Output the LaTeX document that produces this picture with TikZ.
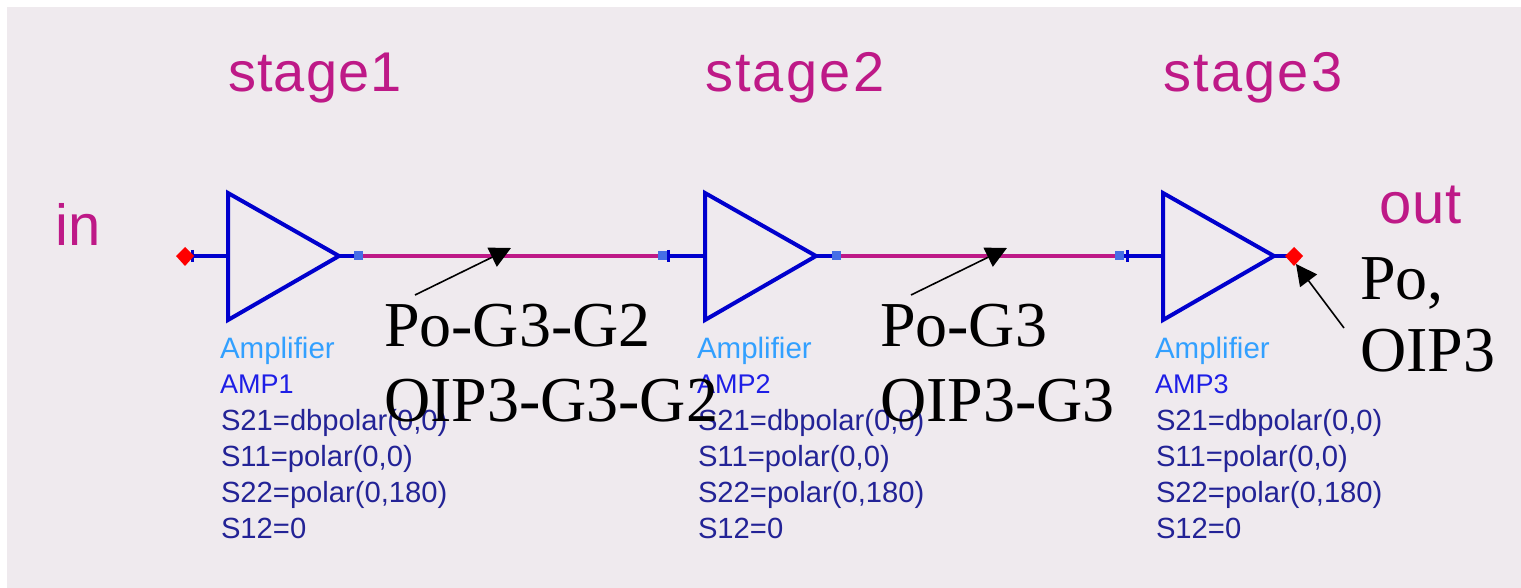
\documentclass[tikz,border=0pt]{standalone}
\usepackage{fontspec}
\setmainfont{Liberation Serif}
\setsansfont{Liberation Sans}
\usetikzlibrary{arrows.meta}
\definecolor{bgc}{RGB}{239,234,238}
\definecolor{wirec}{RGB}{190,25,135}
\definecolor{ampc}{RGB}{0,0,205}
\definecolor{pinc}{RGB}{70,110,230}
\definecolor{typec}{RGB}{50,160,255}
\definecolor{namec}{RGB}{30,30,230}
\definecolor{parc}{RGB}{35,35,150}
\tikzset{
  x=1pt,y=-1pt,
  every node/.style={inner sep=0pt,outer sep=0pt},
  big/.style={font=\fontsize{64}{75}\selectfont\rmfamily,text=black,anchor=base west,align=left},
  lbl/.style={font=\fontsize{56}{58}\selectfont\sffamily,text=wirec,anchor=base west},
  portlbl/.style={font=\fontsize{58}{60}\selectfont\sffamily,text=wirec,anchor=base west},
  typetxt/.style={font=\fontsize{29.5}{30}\selectfont\sffamily,text=typec,anchor=base west},
  nametxt/.style={font=\fontsize{27}{30}\selectfont\sffamily,text=namec,anchor=base west},
  partxt/.style={font=\fontsize{29.2}{36}\selectfont\sffamily,text=parc,anchor=north west,align=left},
  amp/.style={draw=ampc,line width=4pt,line join=miter},
  lead/.style={draw=ampc,line width=4pt},
  wire/.style={draw=wirec,line width=4pt},
  pin/.style={fill=pinc,minimum size=9pt},
  pointer/.style={draw=black,line width=1.6pt,-{Triangle[length=21pt,width=21pt]}},
}
\newcommand{\ampsym}[3]{% x, name, label
  \coordinate (#2in) at (#1,256);
  \coordinate (#2a) at (#1+2,193);
  \coordinate (#2b) at (#1+2,320);
  \coordinate (#2out) at (#1+113,256);
  \draw[amp] (#2a) -- (#2out) -- (#2b) -- cycle;
  \node[typetxt] (#2type) at (#1-6,358) {Amplifier};
  \node[nametxt] (#2name) at (#1-6,393) {#3};
  \node[partxt] (#2par) at (#1-5,409) {S21=dbpolar(0,0)\\S11=polar(0,0)\\S22=polar(0,180)\\S12=0};
}
\begin{document}
\begin{tikzpicture}
\useasboundingbox (0,0) rectangle (1521,588);
\fill[bgc] (7,7) rectangle (1521,588);
% labels
\node[lbl] (s1) at (228,92) {\addfontfeature{LetterSpace=2}stage1};
\node[lbl] (s2) at (705,92) {\addfontfeature{LetterSpace=4}stage2};
\node[lbl] (s3) at (1163,92) {\addfontfeature{LetterSpace=4}stage3};
\node[portlbl] (inl) at (55,246) {\addfontfeature{LetterSpace=2}in};
\node[portlbl] (outl) at (1379,224) {\addfontfeature{LetterSpace=2}out};
% amps
\ampsym{226}{A}{AMP1}
\ampsym{703}{B}{AMP2}
\ampsym{1161}{C}{AMP3}
% pins
\node[pin] (p1) at (358,256) {};
\node[pin] (p2) at (662,256) {};
\node[pin] (p3) at (836,256) {};
\node[pin] (p4) at (1119,256) {};
\coordinate (pi) at (185,256);
\coordinate (po) at (1294,256);
% wires
\draw[wire] (p1) -- (p2);
\draw[wire] (p3) -- (p4);
\draw[lead] (pi) -- (Ain);
\draw[lead] (Aout) -- (p1);
\draw[lead] (p2) -- (Bin);
\draw[lead] (Bout) -- (p3);
\draw[lead] (p4) -- (Cin);
\draw[lead] (Cout) -- (po);
\node[pin] at (p1) {};
\node[pin] at (p2) {};
\node[pin] at (p3) {};
\node[pin] at (p4) {};
% input ticks
\draw[ampc,line width=3pt] (192,250) -- (192,262);
\draw[ampc,line width=3pt] (668,250) -- (668,262);
\draw[ampc,line width=3pt] (1127,250) -- (1127,262);
\fill[red] (185,247) -- (194,256) -- (185,266) -- (176,256) -- cycle;
\fill[red] (1294,247) -- (1303,256) -- (1294,266) -- (1285,256) -- cycle;
% annotations
\node[big] (t1) at (384,421) {Po-G3-G2\\OIP3-G3-G2};
\node[big] (t2) at (880,421) {Po-G3\\OIP3-G3};
\node[big] (t3) at (1360,371) {Po,\\[-3pt]OIP3};
\coordinate (t1s) at (415,295);
\coordinate (t1e) at (511,248);
\coordinate (t2s) at (911,295);
\coordinate (t2e) at (1007,248);
\coordinate (t3s) at (1344,328);
\coordinate (t3e) at (1296,264);
\draw[pointer] (t1s) -- (t1e);
\draw[pointer] (t2s) -- (t2e);
\draw[pointer] (t3s) -- (t3e);
\end{tikzpicture}
\end{document}
